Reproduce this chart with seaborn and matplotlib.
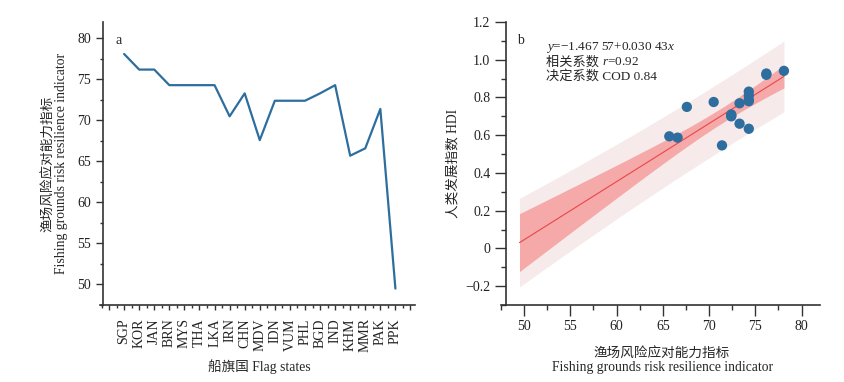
import numpy as np
import pandas as pd
import matplotlib
matplotlib.use('Agg')
import matplotlib.pyplot as plt
from matplotlib.ticker import MultipleLocator, FuncFormatter
import seaborn as sns

# flag states and their fishing-ground risk resilience indicator (panel a)
states = ['SGP', 'KOR', 'JAN', 'BRN', 'MYS', 'THA', 'LKA', 'IRN', 'CHN', 'MDV',
          'IDN', 'VUM', 'PHL', 'BGD', 'IND', 'KHM', 'MMR', 'PAK', 'PPK']
resilience = [78.1, 76.2, 76.2, 74.3, 74.3, 74.3, 74.3, 70.5, 73.3, 67.6,
              72.4, 72.4, 72.4, 73.3, 74.3, 65.7, 66.6, 71.4, 49.5]
# human development index (panel b)
hdi = [0.941, 0.927, 0.920, 0.831, 0.810, 0.787, 0.780, 0.776, 0.769, 0.750,
       0.703, 0.710, 0.700, 0.661, 0.634, 0.594, 0.587, 0.546, -0.015]
# PPK is in the regression but has no dot in the scatter
shown = [True] * 18 + [False]

T_CRIT = 2.11  # t(0.975, n-2)

sns.set_style('ticks')
plt.rcParams['font.family'] = ['Liberation Serif', 'Noto Sans CJK SC']
plt.rcParams['mathtext.fontset'] = 'custom'
plt.rcParams['mathtext.rm'] = 'Liberation Serif'
plt.rcParams['mathtext.it'] = 'Liberation Serif:italic'
plt.rcParams['axes.unicode_minus'] = True

df = pd.DataFrame({'state': states, 'res': resilience, 'hdi': hdi, 'shown': shown})
df['pos'] = np.arange(len(df))

fig = plt.figure(figsize=(8.45, 3.82), dpi=100)
ax1 = fig.add_axes([100 / 845, 0.2016, 315 / 845, 0.7408])
ax2 = fig.add_axes([501 / 845, 0.2016, 319 / 845, 0.7408])

axis_col = '#333333'
blue = '#2d6e9e'
fs = 10
lfs = 9.8

# ---- panel a
sns.lineplot(data=df, x='pos', y='res', ax=ax1, color=blue, lw=1.6)
ax1.set_xlim(-1.6, 19.3)
ax1.set_ylim(47.5, 82)
ax1.spines['left'].set_position(('data', -1.4))
ax1.xaxis.set_major_locator(MultipleLocator(1))
ax1.xaxis.set_minor_locator(MultipleLocator(0.5))
ax1.yaxis.set_major_locator(MultipleLocator(5))
ax1.yaxis.set_minor_locator(MultipleLocator(2.5))
labels = {i: s for i, s in enumerate(states)}
ax1.xaxis.set_major_formatter(FuncFormatter(lambda v, p: labels.get(int(round(v)), '')))
ax1.tick_params(axis='x', which='major', length=3.5, width=1, rotation=90, pad=6, labelsize=fs)
ax1.tick_params(axis='x', which='minor', length=2, width=1)
ax1.tick_params(axis='y', which='major', length=5, width=1, labelsize=fs)
ax1.tick_params(axis='y', which='minor', length=2.5, width=1)
ax1.set_xlabel('船旗国 Flag states', fontsize=lfs)
ax1.set_ylabel('渔场风险应对能力指标\nFishing grounds risk resilience indicator', fontsize=lfs, linespacing=1.05)
ax1.xaxis.set_label_coords(0.505, -0.19)
ax1.yaxis.set_label_coords(-0.1, 0.5)
ax1.text(0.05, 0.936, 'a', transform=ax1.transAxes, fontsize=fs, va='center')

# ---- panel b: OLS fit with confidence and prediction bands
x = df['res'].to_numpy()
y = df['hdi'].to_numpy()
slope, intercept = np.polyfit(x, y, 1)
n = len(x)
s = np.sqrt(np.sum((y - (intercept + slope * x)) ** 2) / (n - 2))
sxx = np.sum((x - x.mean()) ** 2)
xs = np.linspace(x.min(), x.max(), 200)
fit = intercept + slope * xs
ci = T_CRIT * s * np.sqrt(1 / n + (xs - x.mean()) ** 2 / sxx)
pi = T_CRIT * s * np.sqrt(1 + 1 / n + (xs - x.mean()) ** 2 / sxx)

ax2.fill_between(xs, fit - pi, fit + pi, color='#f6eaea', lw=0)
ax2.fill_between(xs, fit - ci, fit + ci, color='#f5a9a9', lw=0)
sns.lineplot(x=xs, y=fit, ax=ax2, color='#e8474a', lw=0.8)
sns.scatterplot(data=df[df['shown']], x='res', y='hdi', ax=ax2, color=blue,
                s=55, edgecolor='none', zorder=3)

ax2.set_xlim(47.5, 82)
ax2.set_ylim(-0.3, 1.2)
ax2.spines['left'].set_position(('data', 48))
ax2.xaxis.set_major_locator(MultipleLocator(5))
ax2.xaxis.set_minor_locator(MultipleLocator(2.5))
ax2.yaxis.set_major_locator(MultipleLocator(0.2))
ax2.yaxis.set_minor_locator(MultipleLocator(0.1))
ax2.yaxis.set_major_formatter(FuncFormatter(
    lambda v, p: '0' if abs(v) < 1e-9 else f'{v:.1f}'.replace('-', '\u2212')))
ax2.tick_params(which='major', length=8, width=1, labelsize=fs, pad=3)
ax2.tick_params(which='minor', length=3.5, width=1)
ax2.set_xlabel('渔场风险应对能力指标\nFishing grounds risk resilience indicator', fontsize=lfs, linespacing=1.1)
ax2.set_ylabel('人类发展指数 HDI', fontsize=lfs)
ax2.xaxis.set_label_coords(0.505, -0.15)
ax2.yaxis.set_label_coords(-0.13, 0.5)
ax2.text(0.05, 0.936, 'b', transform=ax2.transAxes, fontsize=fs, va='center')

# regression annotation; Chinese kept out of mathtext so the CJK fallback works
afs = 9.5
t1 = ax2.text(0.14, 0.9, '$y$=\u22121.467 57+0.030 43$x$', transform=ax2.transAxes,
              fontsize=afs, va='baseline')
t2 = ax2.text(0.14, 0.847, '相关系数 ', transform=ax2.transAxes, fontsize=afs, va='baseline')
ax2.annotate('$r$=0.92', xy=(1, 0), xycoords=t2, fontsize=afs, va='bottom')
ax2.text(0.14, 0.795, '决定系数 COD 0.84', transform=ax2.transAxes, fontsize=afs, va='baseline')

for ax in (ax1, ax2):
    sns.despine(ax=ax)
    for sp in ('left', 'bottom'):
        ax.spines[sp].set_linewidth(1.2)
        ax.spines[sp].set_color(axis_col)
    ax.tick_params(which='both', color=axis_col, labelcolor='#222222', direction='out')

fig.savefig('out.png', dpi=100)
